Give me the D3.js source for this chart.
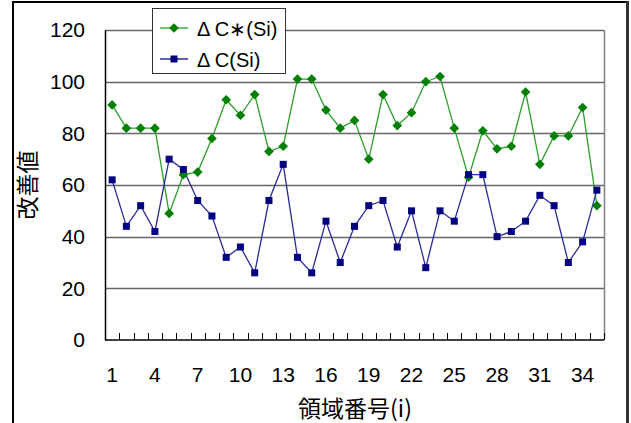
<!DOCTYPE html>
<html>
<head>
<meta charset="utf-8">
<script src="https://cdn.jsdelivr.net/npm/d3@7"></script>
<style>
  body { margin: 0; background: #fff; overflow: hidden; }
  svg { display: block; }
  text { font-family: "Liberation Sans", Arial, "Noto Sans CJK JP", sans-serif; fill: #000; }
  .jp { font-family: "Noto Sans CJK JP", sans-serif; }
</style>
</head>
<body>
<div id="chart"></div>
<script>
const regions = d3.range(1, 36); // 領域番号 1..35
const deltaCStar = [91, 82, 82, 82, 49, 64, 65, 78, 93, 87, 95, 73, 75, 101, 101, 89, 82, 85, 70, 95,
  83, 88, 100, 102, 82, 63, 81, 74, 75, 96, 68, 79, 79, 90, 52];
const deltaC = [62, 44, 52, 42, 70, 66, 54, 48, 32, 36, 26, 54, 68, 32, 26, 46, 30, 44, 52, 54,
  36, 50, 28, 50, 46, 64, 64, 40, 42, 46, 56, 52, 30, 38, 58];
const yTicks = [0, 20, 40, 60, 80, 100, 120];
const xLabels = [1, 4, 7, 10, 13, 16, 19, 22, 25, 28, 31, 34];
const seriesNames = ["Δ C∗(Si)", "Δ C(Si)"];

const width = 631, height = 423;
const margin = { left: 105, top: 30, right: 27, bottom: 83 };

const svg = d3.select("#chart").append("svg")
  .attr("width", width).attr("height", height);

const x = d3.scaleBand().domain(regions).range([margin.left, width - margin.right]);
const y = d3.scaleLinear().domain([0, 120]).range([height - margin.bottom, margin.top]);

const plot = svg.append("g");

// gridlines
plot.selectAll("line.grid").data(yTicks.filter(d => d > 0)).enter().append("line")
  .attr("x1", margin.left).attr("x2", width - margin.right)
  .attr("y1", d => Math.round(y(d)) + 0.5).attr("y2", d => Math.round(y(d)) + 0.5)
  .attr("stroke", "#666").attr("stroke-width", 1.5);

// plot area right border
plot.append("line")
  .attr("x1", width - margin.right + 0.5).attr("x2", width - margin.right + 0.5)
  .attr("y1", y(120)).attr("y2", y(0))
  .attr("stroke", "#808080").attr("stroke-width", 1.5);

// y axis
const yAxis = svg.append("g")
  .attr("transform", `translate(${margin.left},0)`)
  .call(d3.axisLeft(y).tickValues(yTicks).tickSize(0).tickPadding(20));
yAxis.select(".domain").attr("stroke", "#000").attr("stroke-width", 1.5);
yAxis.selectAll("text").style("font-size", "21px").attr("font-family", null);

// x axis: ticks at category boundaries pointing inward
const bottom = y(0);
const boundaries = d3.range(0, regions.length + 1).map(i => margin.left + i * x.step());
svg.append("line").attr("x1", margin.left).attr("x2", width - margin.right)
  .attr("y1", bottom).attr("y2", bottom).attr("stroke", "#000").attr("stroke-width", 1.5);
svg.selectAll("line.xtick").data(boundaries).enter().append("line")
  .attr("x1", d => Math.round(d) + 0.5).attr("x2", d => Math.round(d) + 0.5)
  .attr("y1", bottom).attr("y2", bottom - 7)
  .attr("stroke", "#000");

svg.selectAll("text.xlab").data(xLabels).enter().append("text")
  .attr("x", d => x(d) + x.bandwidth() / 2)
  .attr("y", bottom + 42)
  .attr("text-anchor", "middle")
  .style("font-size", "21px")
  .text(d => d);

// axis titles
svg.append("text").attr("class", "jp")
  .attr("transform", `translate(36,185) rotate(-90)`)
  .attr("text-anchor", "middle")
  .style("font-size", "23px")
  .text("改善値");

svg.append("text").attr("class", "jp")
  .attr("x", 355).attr("y", 417)
  .attr("text-anchor", "middle")
  .style("font-size", "23px")
  .text("領域番号(i)");

// lines + markers
const cx = d => x(d) + x.bandwidth() / 2;
const line = vals => d3.line().x((v, i) => cx(regions[i])).y(v => y(v))(vals);

plot.append("path").attr("d", line(deltaCStar))
  .attr("fill", "none").attr("stroke", "#2e9e2e").attr("stroke-width", 1.3);
plot.append("path").attr("d", line(deltaC))
  .attr("fill", "none").attr("stroke", "#2a2a9a").attr("stroke-width", 1.3);

const diamond = d3.symbol().type(d3.symbolDiamond2).size(60);
plot.selectAll("path.dstar").data(deltaCStar).enter().append("path")
  .attr("d", diamond)
  .attr("transform", (v, i) => `translate(${cx(regions[i])},${y(v)})`)
  .attr("fill", "#008000");

plot.selectAll("rect.dc").data(deltaC).enter().append("rect")
  .attr("x", (v, i) => cx(regions[i]) - 3.5)
  .attr("y", v => y(v) - 3.5)
  .attr("width", 7).attr("height", 7)
  .attr("fill", "#000080");

// legend
const lg = svg.append("g");
lg.append("rect").attr("x", 152.5).attr("y", 8.5).attr("width", 133).attr("height", 65)
  .attr("fill", "#fff").attr("stroke", "#333");
const rows = [
  { name: seriesNames[0], color: "#008000", stroke: "#45b045", marker: "diamond", yy: 28 },
  { name: seriesNames[1], color: "#000080", stroke: "#2a2a9a", marker: "square", yy: 59 }
];
rows.forEach(r => {
  lg.append("line").attr("x1", 160).attr("x2", 188).attr("y1", r.yy).attr("y2", r.yy)
    .attr("stroke", r.stroke).attr("stroke-width", 1.5);
  if (r.marker === "diamond") {
    lg.append("path").attr("d", diamond).attr("transform", `translate(174,${r.yy})`).attr("fill", r.color);
  } else {
    lg.append("rect").attr("x", 170.5).attr("y", r.yy - 3.5).attr("width", 7).attr("height", 7).attr("fill", r.color);
  }
  lg.append("text").attr("x", 197).attr("y", r.yy + 7.5)
    .style("font-size", "20px").text(r.name);
});

// outer frame, drawn last so nothing covers it
const frame = svg.append("g");
frame.append("path")
  .attr("d", "M13,423 V2 H627")
  .attr("fill", "none").attr("stroke", "#000").attr("stroke-width", 2);
frame.append("line").attr("x1", 627.5).attr("x2", 627.5).attr("y1", 1).attr("y2", height)
  .attr("stroke", "#333").attr("stroke-width", 3);
</script>
</body>
</html>
